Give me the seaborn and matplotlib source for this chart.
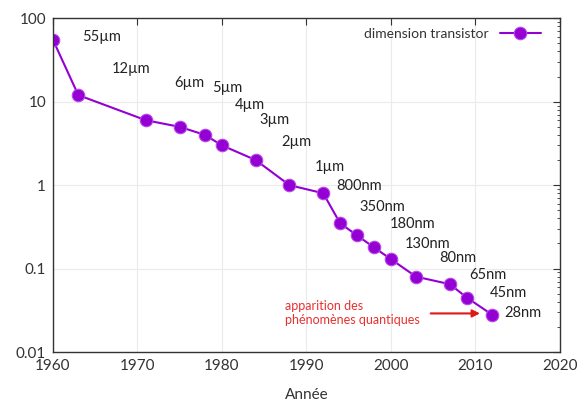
import matplotlib
matplotlib.use("Agg")
import matplotlib.pyplot as plt
from matplotlib.ticker import LogLocator, FixedLocator, NullFormatter
import pandas as pd
import seaborn as sns

# transistor size over time (micrometres)
years = [1960, 1963, 1971, 1975, 1978, 1980, 1984, 1988, 1992, 1994,
         1996, 1998, 2000, 2003, 2007, 2009, 2012]
sizes = [55, 12, 6, 5, 4, 3, 2, 1, 0.8, 0.35,
         0.25, 0.18, 0.13, 0.08, 0.065, 0.045, 0.028]

# text labels and where they sit (year, value)
labels = ["55µm", "12µm", "6µm", "5µm", "4µm", "3µm", "2µm", "1µm", "800nm",
          "350nm", "180nm", "130nm", "80nm", "65nm", "45nm", "28nm"]
label_years = [1963.5, 1967.0, 1974.4, 1978.9, 1981.5, 1984.5, 1987.1, 1991.0,
               1993.5, 1996.3, 1999.9, 2001.7, 2005.8, 2009.3, 2011.7, 2013.5]
label_vals = [59, 25, 17, 14.5, 9.1, 6.0, 3.3, 1.64,
              0.97, 0.55, 0.34, 0.196, 0.134, 0.084, 0.051, 0.029]

df = pd.DataFrame({"Année": years, "taille": sizes})

sns.set_style("white")
plt.rcParams["font.family"] = ["Lato", "DejaVu Sans"]

fig = plt.figure(figsize=(5.85, 4.04), dpi=100)
ax = fig.add_axes([0.0906, 0.1287, 0.866, 0.826])

purple = "#9400D3"
sns.lineplot(data=df, x="Année", y="taille", ax=ax, color=purple,
             marker="o", markersize=9, markeredgecolor="#B848E8",
             markeredgewidth=0.8, linewidth=1.5, label="dimension transistor")

ax.set_yscale("log")
ax.set_xlim(1960, 2020)
ax.set_ylim(0.01, 100)
ax.xaxis.set_major_locator(FixedLocator(range(1960, 2021, 10)))
ax.yaxis.set_minor_locator(LogLocator(base=10, subs=range(2, 10), numticks=20))
ax.yaxis.set_minor_formatter(NullFormatter())
ax.set_yticks([0.01, 0.1, 1, 10, 100])
ax.set_yticklabels(["0.01", "0.1", "1", "10", "100"])

ax.grid(True, which="major", color="#EBEBEB", linewidth=0.8)
ax.tick_params(which="both", direction="in", top=True, right=True,
               colors="#333333", labelcolor="#333333", labelsize=11)
ax.tick_params(which="major", length=5, width=0.8, pad=5)
ax.tick_params(which="minor", length=2.5, width=0.6)
for s in ax.spines.values():
    s.set_color("#333333")
    s.set_linewidth(1.0)

ax.set_xlabel("Année", color="#333333", fontsize=11, labelpad=11)
ax.set_ylabel("")

for lab, lx, ly in zip(labels, label_years, label_vals):
    ax.text(lx, ly, lab, fontsize=10.5, color="#222222", ha="left", va="center")

ax.annotate("", xy=(2010.9, 0.029), xytext=(2004.4, 0.029),
            arrowprops=dict(arrowstyle="-|>", color="#E01818", lw=1.5,
                            mutation_scale=11))
ax.text(1987.5, 0.0295, "apparition des\nphénomènes quantiques",
        color="#E83030", fontsize=9, ha="left", va="center", linespacing=1.25)

leg = ax.legend(loc="upper right", frameon=False, markerfirst=False,
                fontsize=10, handlelength=3.0, borderaxespad=0.3,
                handletextpad=0.8, bbox_to_anchor=(0.983, 1.0))
for t in leg.get_texts():
    t.set_color("#333333")

plt.savefig("out.png", dpi=100)
